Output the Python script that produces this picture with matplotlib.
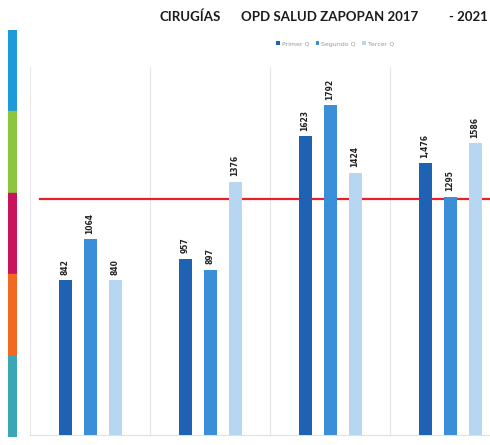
import numpy as np
import matplotlib
matplotlib.use('Agg')
import matplotlib.pyplot as plt
from matplotlib.patches import Rectangle

# values
series_names = ['Primer Q', 'Segundo Q', 'Tercer Q']
primer = [842, 957, 1623, 1476]
segundo = [1064, 897, 1792, 1295]
tercer = [840, 1376, 1424, 1586]
label_primer = ['842', '957', '1623', '1,476']
label_segundo = ['1064', '897', '1792', '1295']
label_tercer = ['840', '1376', '1424', '1586']
meta = 1283

colors = ['#1f62b4', '#3b8fd9', '#b7d6f2']
stripe_colors = ['#1d9ad8', '#8cc53f', '#c8145c', '#f26a22', '#3aa6b6']

W, H = 490, 445
fig = plt.figure(figsize=(W / 100, H / 100), dpi=100)
fig.patch.set_facecolor('white')

# main axes: groups are 120px wide, first starts at x=30, bars baseline at y=435
ax = fig.add_axes([30 / W, 10 / H, 480 / W, 368 / H])
ax.set_xlim(-0.5, 3.5)
ax.set_ylim(0, 2000)

x = np.arange(len(primer))
width = 13 / 120
offset = 25 / 120
for i, (vals, labs) in enumerate(zip([primer, segundo, tercer],
                                     [label_primer, label_segundo, label_tercer])):
    pos = x + (i - 1) * offset
    ax.bar(pos, vals, width=width, color=colors[i], zorder=3, label=series_names[i])
    for px, v, lab in zip(pos, vals, labs):
        ax.annotate(lab, (px, v), xytext=(0, 4), textcoords='offset points',
                    rotation=90, ha='center', va='bottom', fontsize=5.5,
                    fontweight='bold', color='#222222')

ax.axhline(meta, xmin=10 / 480, xmax=1, color='#e8202a', linewidth=1.6, zorder=2)

# category separators
ax.set_xticks(np.arange(-0.5, 4, 1))
ax.xaxis.grid(True, color='#e6e6e6', linewidth=0.8)
ax.set_xticklabels([])
ax.set_yticks([])
ax.tick_params(length=0)
for s in ['top', 'right', 'left']:
    ax.spines[s].set_visible(False)
ax.spines['bottom'].set_color('#e0e0e0')
ax.set_axisbelow(True)

title_kw = dict(fontsize=9.5, color='#1a1a1a', va='center', family='Lato',
                fontweight='bold')
fig.text(160 / W, 1 - 17 / H, 'CIRUGÍAS', ha='left', **title_kw)
fig.text(241 / W, 1 - 17 / H, 'OPD SALUD ZAPOPAN 2017', ha='left', **title_kw)
fig.text(488 / W, 1 - 17 / H, '- 2021', ha='right', **title_kw)

fig.legend(loc='center', bbox_to_anchor=(335 / W, 1 - 44 / H), ncol=3,
           frameon=False, fontsize=4.5, handlelength=0.6, handleheight=0.6,
           columnspacing=1.0, handletextpad=0.3, labelcolor='#999999')

# colored strip on the left edge
sax = fig.add_axes([8 / W, (H - 437) / H, 9 / W, 407 / H])
sax.set_xlim(0, 1)
sax.set_ylim(0, len(stripe_colors))
for k, c in enumerate(stripe_colors):
    sax.add_patch(Rectangle((0, len(stripe_colors) - 1 - k), 1, 1, color=c))
sax.axis('off')

fig.savefig('out.png', dpi=100)
